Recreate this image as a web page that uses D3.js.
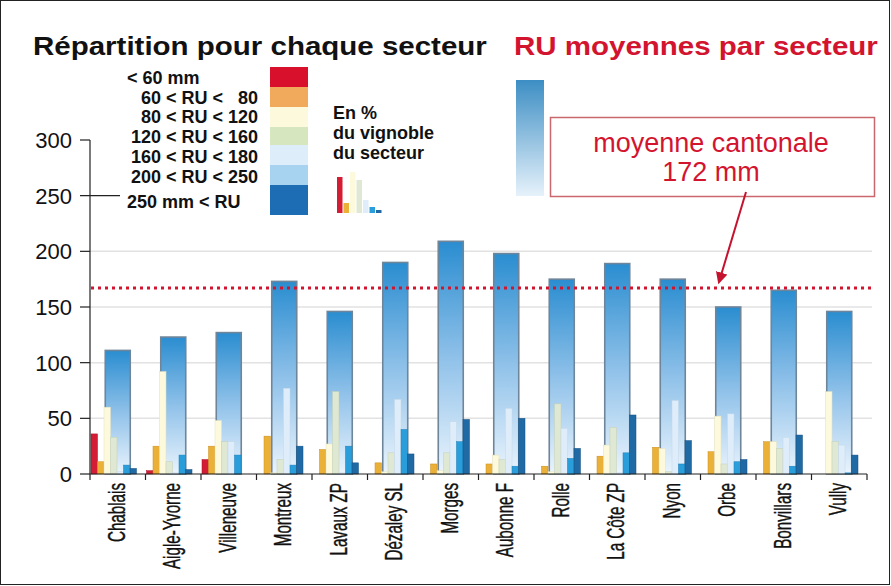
<!DOCTYPE html>
<html lang="fr">
<head>
    <meta charset="utf-8">
    <title>RU par secteur</title>
    <script src="https://d3js.org/d3.v7.min.js"></script>
    <style>
        body { margin: 0; background: #fff; }
        svg { display: block; font-family: "Liberation Sans", Arial, sans-serif; }
    </style>
</head>
<body>
    <div id="chart"></div>
    <script>
        // Data
        const sectors = ["Chablais", "Aigle-Yvorne", "Villeneuve", "Montreux", "Lavaux ZP", "Dézaley SL", "Morges",
            "Aubonne F", "Rolle", "La Côte ZP", "Nyon", "Orbe", "Bonvillars", "Vully"];
        const ruMean = [111, 123, 127, 173, 146, 190, 209, 198, 175, 189, 175, 150, 165, 146];
        const classLabels = ["< 60 mm", "60 < RU <   80", "80 < RU < 120", "120 < RU < 160",
            "160 < RU < 180", "200 < RU < 250", "250 mm < RU"];
        // % du vignoble du secteur, par classe de RU
        const lt60 = [36, 3, 13, 0, 0, 0, 0, 0, 0, 0, 0, 0, 0, 0];
        const ru60to80 = [11, 25, 25, 34, 22, 10, 9, 9, 7, 16, 24, 20, 29, 0];
        const ru80to120 = [60, 92, 48, 1, 27, 2, 3, 17, 2, 26, 23, 52, 29, 74];
        const ru120to160 = [33, 11, 29, 13, 74, 19, 19, 13, 63, 42, 2, 9, 23, 29];
        const ru160to180 = [2, 1, 29, 77, 1, 67, 47, 59, 41, 1, 66, 54, 33, 26];
        const ru200to250 = [8, 17, 17, 8, 25, 40, 29, 7, 14, 19, 9, 11, 7, 1];
        const gt250 = [5, 4, 0, 25, 10, 18, 49, 50, 23, 53, 30, 13, 35, 17];
        const iconValues = [36, 10, 41, 33, 13, 6, 3];
        const yTicks = [0, 50, 100, 150, 200, 250, 300];
        const cantonDrawn = 167;
        const cantonLabel = "172 mm";

        const series = [lt60, ru60to80, ru80to120, ru120to160, ru160to180, ru200to250, gt250];
        const barColors = ["#d41c34", "#ebb037", "#fcf9dd", "#dfe8d3", "#deedf9", "#2a9edb", "#1f6aa5"];
        const barStrokes = ["#a8122a", "#c98f1f", "#e6e2bf", "#c3cfb6", "#c4d8e9", "#1d7fb8", "#174f80"];
        const legendColors = ["#d8102c", "#f1a95c", "#fdf9dd", "#d6e6bf", "#ddedf9", "#a7d3f1", "#1d6db4"];

        const svg = d3.select("#chart").append("svg")
            .attr("width", 891)
            .attr("height", 586);

        const defs = svg.append("defs");
        const g1 = defs.append("linearGradient").attr("id", "bigGrad")
            .attr("x1", 0).attr("y1", 0).attr("x2", 0).attr("y2", 1);
        g1.append("stop").attr("offset", "0%").attr("stop-color", "#2a8dd0");
        g1.append("stop").attr("offset", "50%").attr("stop-color", "#8fc1e9");
        g1.append("stop").attr("offset", "100%").attr("stop-color", "#eaf4fd");
        const g2 = defs.append("linearGradient").attr("id", "legGrad")
            .attr("x1", 0).attr("y1", 0).attr("x2", 0).attr("y2", 1);
        g2.append("stop").attr("offset", "0%").attr("stop-color", "#3d8ec4");
        g2.append("stop").attr("offset", "100%").attr("stop-color", "#e6f2fb");
        defs.append("marker")
            .attr("id", "arrow")
            .attr("viewBox", "0 0 10 10")
            .attr("refX", 8).attr("refY", 5)
            .attr("markerWidth", 6).attr("markerHeight", 6)
            .attr("orient", "auto")
            .append("path")
            .attr("d", "M 0 0 L 10 5 L 0 10 Z")
            .attr("fill", "#c4122f");

        // frame
        svg.append("rect")
            .attr("x", 0.5).attr("y", 0.5)
            .attr("width", 889).attr("height", 584)
            .attr("fill", "none")
            .attr("stroke", "#222");

        // Scales
        const x = d3.scaleBand().domain(sectors).range([90, 867]);
        const inner = d3.scaleBand().domain(d3.range(7)).range([1, 46.5]);
        const y = d3.scaleLinear().domain([0, 300]).range([474, 140]);

        // Grid
        svg.selectAll("line.grid")
            .data(yTicks.filter(d => d > 0 && d < 250))
            .enter()
            .append("line")
            .attr("class", "grid")
            .attr("x1", 90).attr("x2", 872)
            .attr("y1", d => y(d)).attr("y2", d => y(d))
            .attr("stroke", "#e2e2e2")
            .attr("stroke-width", 1.5);

        // Big bars (RU moyenne)
        const bigW = 25;
        svg.selectAll("rect.big")
            .data(sectors)
            .enter()
            .append("rect")
            .attr("class", "big")
            .attr("x", d => x(d) + x.bandwidth() / 2 - bigW / 2)
            .attr("y", (d, i) => y(ruMean[i]))
            .attr("width", bigW)
            .attr("height", (d, i) => y(0) - y(ruMean[i]))
            .attr("fill", "url(#bigGrad)")
            .attr("stroke", "#6f8599")
            .attr("stroke-width", 1.6);

        // Small bars per class
        series.forEach((vals, k) => {
            svg.selectAll("rect.c" + k)
                .data(sectors)
                .enter()
                .append("rect")
                .attr("class", "c" + k)
                .attr("x", d => x(d) + inner(k))
                .attr("y", (d, i) => y(vals[i]))
                .attr("width", inner.bandwidth())
                .attr("height", (d, i) => y(0) - y(vals[i]))
                .attr("fill", barColors[k])
                .attr("stroke", barStrokes[k])
                .attr("stroke-width", 0.5);
        });

        // Canton average dotted line
        svg.append("line")
            .attr("x1", 91).attr("x2", 872)
            .attr("y1", y(cantonDrawn)).attr("y2", y(cantonDrawn))
            .attr("stroke", "#d3142f")
            .attr("stroke-width", 3)
            .attr("stroke-dasharray", "3 4");

        // Y axis
        svg.append("line")
            .attr("x1", 90).attr("x2", 90)
            .attr("y1", y(300)).attr("y2", y(0))
            .attr("stroke", "#222").attr("stroke-width", 1.2);
        svg.selectAll("line.ytick")
            .data(yTicks)
            .enter()
            .append("line")
            .attr("class", "ytick")
            .attr("x1", 80).attr("x2", d => d === 250 ? 120 : 90)
            .attr("y1", d => y(d)).attr("y2", d => y(d))
            .attr("stroke", "#222").attr("stroke-width", 1.2);
        svg.selectAll("text.ylab")
            .data(yTicks)
            .enter()
            .append("text")
            .attr("class", "ylab")
            .attr("x", 72)
            .attr("y", d => y(d) + 8)
            .attr("text-anchor", "end")
            .style("font-size", "22px")
            .attr("fill", "#111")
            .text(d => d);

        // X axis
        svg.append("line")
            .attr("x1", 90).attr("x2", 867)
            .attr("y1", y(0)).attr("y2", y(0))
            .attr("stroke", "#222").attr("stroke-width", 1.2);
        svg.selectAll("line.xtick")
            .data(sectors.concat(["end"]))
            .enter()
            .append("line")
            .attr("class", "xtick")
            .attr("x1", (d, i) => i < sectors.length ? x(d) : x(sectors[sectors.length - 1]) + x.bandwidth())
            .attr("x2", (d, i) => i < sectors.length ? x(d) : x(sectors[sectors.length - 1]) + x.bandwidth())
            .attr("y1", y(0)).attr("y2", y(0) + 6)
            .attr("stroke", "#222").attr("stroke-width", 1.2);
        svg.selectAll("text.xlab")
            .data(sectors)
            .enter()
            .append("text")
            .attr("class", "xlab")
            .attr("transform", d => `translate(${x(d) + x.bandwidth() / 2 + 7},483) rotate(-90) scale(0.66,1)`)
            .attr("text-anchor", "end")
            .style("font-size", "23px")
            .attr("fill", "#111")
            .attr("stroke", "#111")
            .attr("stroke-width", 0.4)
            .text(d => d);

        // Titles
        svg.append("text")
            .attr("transform", "translate(33,55) scale(1.18,1)")
            .style("font-size", "25px")
            .style("font-weight", "bold")
            .attr("fill", "#111")
            .text("Répartition pour chaque secteur");
        svg.append("text")
            .attr("transform", "translate(514,55) scale(1.18,1)")
            .style("font-size", "25px")
            .style("font-weight", "bold")
            .attr("fill", "#d3142f")
            .text("RU moyennes par secteur");

        // Legend: classes
        const legY = [78, 98, 117, 137, 157, 177, 202];
        svg.selectAll("text.leg")
            .data(classLabels)
            .enter()
            .append("text")
            .attr("class", "leg")
            .attr("x", (d, i) => (i === 0 || i === 6) ? 127 : 258)
            .attr("y", (d, i) => legY[i] + 6)
            .attr("text-anchor", (d, i) => (i === 0 || i === 6) ? "start" : "end")
            .style("font-size", "18px")
            .style("font-weight", "bold")
            .style("white-space", "pre")
            .attr("fill", "#111")
            .text(d => d);

        const swY = [67, 87, 107, 127, 145, 165, 185, 215];
        svg.selectAll("rect.sw")
            .data(legendColors)
            .enter()
            .append("rect")
            .attr("class", "sw")
            .attr("x", 270)
            .attr("y", (d, i) => swY[i])
            .attr("width", 38)
            .attr("height", (d, i) => swY[i + 1] - swY[i])
            .attr("fill", d => d);

        svg.selectAll("text.pct")
            .data(["En %", "du vignoble", "du secteur"])
            .enter()
            .append("text")
            .attr("class", "pct")
            .attr("x", 333)
            .attr("y", (d, i) => 119 + i * 20)
            .style("font-size", "18px")
            .style("font-weight", "bold")
            .attr("fill", "#111")
            .text(d => d);

        // mini icon
        const iy = d3.scaleLinear().domain([0, 36]).range([213, 177]);
        svg.selectAll("rect.icon")
            .data(iconValues)
            .enter()
            .append("rect")
            .attr("class", "icon")
            .attr("x", (d, i) => 336 + inner(i))
            .attr("y", d => iy(d))
            .attr("width", 5.5)
            .attr("height", d => 213 - iy(d))
            .attr("fill", (d, i) => barColors[i]);

        // Legend: mean bar
        svg.append("rect")
            .attr("x", 516).attr("y", 80)
            .attr("width", 28).attr("height", 116)
            .attr("fill", "url(#legGrad)");

        // Annotation
        svg.append("rect")
            .attr("x", 550.5).attr("y", 117.5)
            .attr("width", 324).attr("height", 79)
            .attr("fill", "#fff")
            .attr("stroke", "#c9676d")
            .attr("stroke-width", 1.5);
        svg.append("text")
            .attr("x", 711).attr("y", 152)
            .attr("text-anchor", "middle")
            .style("font-size", "27px")
            .attr("fill", "#d3142f")
            .text("moyenne cantonale");
        svg.append("text")
            .attr("x", 711).attr("y", 181)
            .attr("text-anchor", "middle")
            .style("font-size", "27px")
            .attr("fill", "#d3142f")
            .text(cantonLabel);
        svg.append("line")
            .attr("x1", 746).attr("y1", 192)
            .attr("x2", 719).attr("y2", 282)
            .attr("stroke", "#c4122f")
            .attr("stroke-width", 2)
            .attr("marker-end", "url(#arrow)");
    </script>
</body>
</html>
